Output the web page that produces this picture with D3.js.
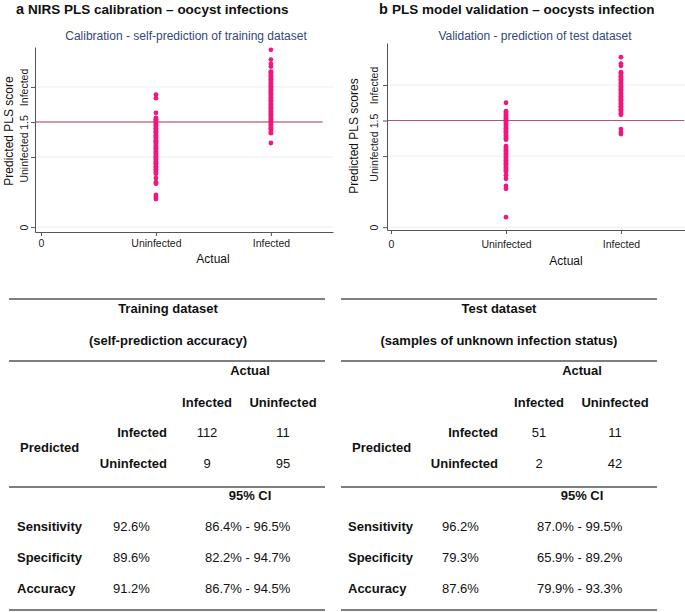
<!DOCTYPE html>
<html><head><meta charset="utf-8">
<script src="https://cdn.jsdelivr.net/npm/d3@7"></script>
<style>
body{margin:0;background:#fff;}
text{font-family:"Liberation Sans",Arial,sans-serif;}
</style></head>
<body>
<svg id="c" width="685" height="612"></svg>
<script>
// ---------- data ----------
const xCategories = ["0","Uninfected","Infected"];
const yTickValues = [0,1,1.5,2];
const yTickLabels = ["0","Uninfected","1.5","Infected"];
const threshold = 1.5;

// Panel a: calibration (training dataset) predicted PLS scores
const trainUninfected = [1.89,1.84,1.63,1.56,1.54,1.53,1.51,1.50,1.48,1.46,1.45,1.43,1.41,1.40,1.38,1.36,1.35,1.33,1.31,1.29,1.28,1.26,1.24,1.22,1.21,1.19,1.17,1.15,1.13,1.12,1.10,1.08,1.06,1.05,1.03,1.01,0.99,0.98,0.96,0.94,0.92,0.91,0.89,0.87,0.85,0.83,0.82,0.80,0.78,0.76,0.70,0.64,0.62,0.46,0.43,0.40];
const trainInfected = [2.53,2.39,2.33,2.29,2.22,2.21,2.19,2.17,2.15,2.13,2.11,2.09,2.07,2.05,2.03,2.01,1.99,1.97,1.95,1.93,1.91,1.89,1.87,1.85,1.83,1.81,1.79,1.77,1.75,1.73,1.71,1.69,1.67,1.65,1.63,1.61,1.59,1.57,1.55,1.53,1.51,1.49,1.47,1.45,1.43,1.41,1.39,1.36,1.34,1.20];

// Panel b: validation (test dataset) predicted PLS scores
const testUninfected = [1.75,1.63,1.61,1.59,1.57,1.55,1.53,1.51,1.49,1.47,1.45,1.43,1.41,1.39,1.37,1.35,1.33,1.31,1.29,1.27,1.25,1.23,1.14,1.12,1.10,1.08,1.06,1.04,1.02,1.00,0.98,0.96,0.94,0.92,0.90,0.88,0.86,0.84,0.82,0.80,0.78,0.73,0.68,0.58,0.54,0.14];
const testInfected = [2.39,2.30,2.27,2.18,2.16,2.14,2.12,2.10,2.08,2.06,2.04,2.02,2.00,1.98,1.96,1.94,1.92,1.90,1.88,1.86,1.84,1.82,1.80,1.78,1.76,1.74,1.72,1.70,1.68,1.66,1.64,1.62,1.60,1.58,1.38,1.34,1.31];

// Tables
const trainConfusion = [["Infected","112","11"],["Uninfected","9","95"]];
const testConfusion  = [["Infected","51","11"],["Uninfected","2","42"]];
const trainStats = [["Sensitivity","92.6%","86.4% - 96.5%"],["Specificity","89.6%","82.2% - 94.7%"],["Accuracy","91.2%","86.7% - 94.5%"]];
const testStats  = [["Sensitivity","96.2%","87.0% - 99.5%"],["Specificity","79.3%","65.9% - 89.2%"],["Accuracy","87.6%","79.9% - 93.3%"]];

const svg = d3.select("#c");
const PINK = "#f5157f";

function panel(cfg){
  const g = svg.append("g");
  const x = d3.scaleLinear().domain(cfg.xd).range(cfg.xr);
  const y = d3.scaleLinear().domain(cfg.yd).range(cfg.yr);
  // panel title
  const t = g.append("text").attr("x",cfg.titleX).attr("y",14).attr("font-size",13.5).attr("font-weight","bold").attr("fill","#111");
  t.append("tspan").text(cfg.letter+" ").attr("font-size",14.5);
  t.append("tspan").text(cfg.title);
  // subtitle
  g.append("text").attr("x",cfg.subX).attr("y",40).attr("text-anchor","middle").attr("font-size",12).attr("fill","#34477a").text(cfg.sub);
  // gridlines
  g.selectAll(".grid").data([0,1,2]).join("line")
    .attr("x1",cfg.xr[0]).attr("x2",cfg.xr[1]).attr("y1",d=>y(d)).attr("y2",d=>y(d))
    .attr("stroke","#e9eef3").attr("stroke-width",1);
  // threshold line
  g.append("line").attr("x1",cfg.xr[0]).attr("x2",x(cfg.lineEnd)).attr("y1",y(threshold)).attr("y2",y(threshold))
    .attr("stroke",cfg.lineColor).attr("stroke-width",cfg.lineWidth);
  // axes
  const ya = g.append("g").attr("transform",`translate(${cfg.xr[0]},0)`)
    .call(d3.axisLeft(y).tickValues(yTickValues).tickFormat((d,i)=>yTickLabels[i]).tickSize(4).tickSizeOuter(0));
  ya.select(".domain").attr("stroke","#555");
  ya.selectAll(".tick line").attr("stroke","#555");
  ya.selectAll(".tick text").attr("transform","rotate(-90)").attr("x",0).attr("y",-cfg.yLabOff).attr("dy",0)
    .attr("text-anchor","middle").attr("font-size",10.5).attr("fill","#222").attr("font-family",'"Liberation Sans",Arial,sans-serif');
  const xa = g.append("g").attr("transform",`translate(0,${cfg.yr[0]})`)
    .call(d3.axisBottom(x).tickValues([0,1,2]).tickFormat((d,i)=>xCategories[i]).tickSize(4).tickSizeOuter(0));
  xa.select(".domain").attr("stroke","#555");
  xa.selectAll(".tick line").attr("stroke","#555");
  xa.selectAll(".tick text").attr("y",cfg.xLabOff).attr("dy",0).attr("font-size",10.5).attr("fill","#222")
    .attr("font-family",'"Liberation Sans",Arial,sans-serif');
  // axis titles
  g.append("text").attr("transform",`translate(${cfg.yTitleX},${cfg.yTitleY}) rotate(-90)`).attr("text-anchor","middle")
    .attr("font-size",12).attr("fill","#111").text(cfg.yTitle);
  g.append("text").attr("x",cfg.xTitleX).attr("y",cfg.xTitleY).attr("text-anchor","middle")
    .attr("font-size",12).attr("fill","#111").text("Actual");
  // points
  const pts = cfg.uninf.map(v=>({c:1,v})).concat(cfg.inf.map(v=>({c:2,v})));
  g.selectAll(".pt").data(pts).join("circle").attr("cx",d=>x(d.c)).attr("cy",d=>y(d.v)).attr("r",2.4).attr("fill",PINK);
}

panel({letter:"a",title:"NIRS PLS calibration – oocyst infections",titleX:16,
  sub:"Calibration - self-prediction of training dataset",subX:186,
  xd:[-0.052,2.54],xr:[35,333],yd:[-0.07,2.57],yr:[232,47],lineEnd:2.45,lineColor:"#d19aac",lineWidth:2,
  yLabOff:7,xLabOff:15,yTitle:"Predicted PLS score",yTitleX:13,yTitleY:131,xTitleX:213,xTitleY:263,
  uninf:trainUninfected,inf:trainInfected});

panel({letter:"b",title:"PLS model validation – oocysts infection",titleX:379,
  sub:"Validation - prediction of test dataset",subX:535,
  xd:[-0.035,2.557],xr:[387,685],yd:[-0.04,2.59],yr:[230,43],lineEnd:2.55,lineColor:"#b8566f",lineWidth:1.2,
  yLabOff:9,xLabOff:18,yTitle:"Predicted PLS scores",yTitleX:358,yTitleY:136,xTitleX:566,xTitleY:265,
  uninf:testUninfected,inf:testInfected});

// ---------- tables ----------
function table(cfg){
  const g = svg.append("g");
  const FS = 13;
  [299,361,487,610].forEach(yy=>{
    g.append("line").attr("x1",cfg.x0).attr("x2",cfg.x1).attr("y1",yy).attr("y2",yy).attr("stroke","#555").attr("stroke-width",1.3);
  });
  const txt=(x,y,s,anchor,bold)=>g.append("text").attr("x",x).attr("y",y).attr("text-anchor",anchor)
    .attr("font-size",FS).attr("font-weight",bold?"bold":"normal").attr("fill","#111").text(s);
  txt(cfg.cx,313,cfg.h1,"middle",true);
  txt(cfg.cx,345,cfg.h2,"middle",true);
  txt(cfg.actualX,375,"Actual","middle",true);
  txt(cfg.c1,407,"Infected","middle",true);
  txt(cfg.c2,407,"Uninfected","middle",true);
  txt(cfg.predX,452,"Predicted","start",true);
  cfg.conf.forEach((r,i)=>{
    const yy = 437 + i*31;
    txt(cfg.rowLabX,yy,r[0],"end",true);
    txt(cfg.c1,yy,r[1],"middle",false);
    txt(cfg.c2,yy,r[2],"middle",false);
  });
  txt(cfg.actualX,500,"95% CI","middle",true);
  cfg.stats.forEach((r,i)=>{
    const yy = 531 + i*31;
    txt(cfg.statLabX,yy,r[0],"start",true);
    txt(cfg.valX,yy,r[1],"start",false);
    txt(cfg.ciX,yy,r[2],"start",false);
  });
}
table({x0:9,x1:325,cx:168,h1:"Training dataset",h2:"(self-prediction accuracy)",actualX:250,c1:207,c2:283,
  predX:20,rowLabX:167,conf:trainConfusion,statLabX:17,valX:113,ciX:205,stats:trainStats});
table({x0:341,x1:657,cx:499,h1:"Test dataset",h2:"(samples of unknown infection status)",actualX:582,c1:539,c2:615,
  predX:352,rowLabX:498,conf:testConfusion,statLabX:348,valX:442,ciX:537,stats:testStats});
</script>
</body></html>
